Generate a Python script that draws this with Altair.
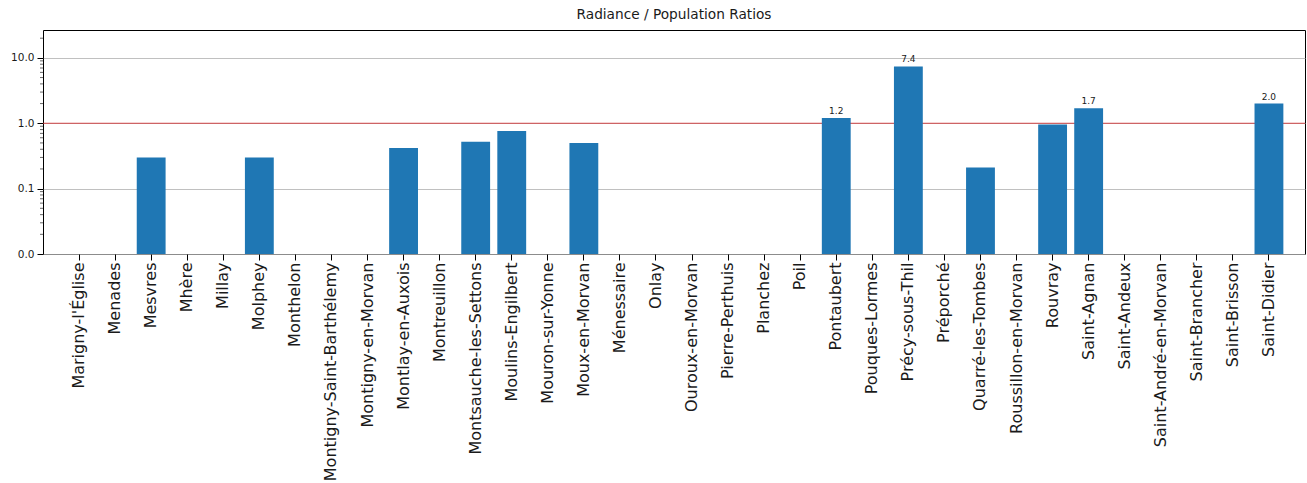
import altair as alt
import pandas as pd

# Communes and their radiance / population ratio (0 = no data, not drawn on log axis)
communes = [
    "Marigny-l'Église", "Menades", "Mesvres", "Mhère", "Millay", "Molphey",
    "Monthelon", "Montigny-Saint-Barthélemy", "Montigny-en-Morvan",
    "Montlay-en-Auxois", "Montreuillon", "Montsauche-les-Settons",
    "Moulins-Engilbert", "Mouron-sur-Yonne", "Moux-en-Morvan", "Ménessaire",
    "Onlay", "Ouroux-en-Morvan", "Pierre-Perthuis", "Planchez", "Poil",
    "Pontaubert", "Pouques-Lormes", "Précy-sous-Thil", "Préporché",
    "Quarré-les-Tombes", "Roussillon-en-Morvan", "Rouvray", "Saint-Agnan",
    "Saint-Andeux", "Saint-André-en-Morvan", "Saint-Brancher", "Saint-Brisson",
    "Saint-Didier",
]
ratios = [
    0, 0, 0.30, 0, 0, 0.30,
    0, 0, 0,
    0.42, 0, 0.52,
    0.76, 0, 0.50, 0,
    0, 0, 0, 0, 0,
    1.2, 0, 7.4, 0,
    0.21, 0, 0.96, 1.7,
    0, 0, 0, 0,
    2.0,
]

y_ticks = [0.01, 0.1, 1.0, 10.0]
y_domain = [0.01, 26.7]
minor_ticks = [m * d for d in (0.01, 0.1, 1.0) for m in range(2, 10)] + [20.0]
reference_level = 1.0

W, H = 1262, 224
FONT = "DejaVu Sans"
BAR_COLOR = "#1f77b4"

df = pd.DataFrame({"commune": communes, "ratio": ratios})
df["base"] = y_domain[0]
df["label"] = df["ratio"].map(lambda v: f"{v:.1f}")

x_scale = alt.Scale(domain=communes, paddingInner=0.2, paddingOuter=0.6)
y_scale = alt.Scale(type="log", domain=y_domain, nice=False)

x_enc = alt.X(
    "commune:N", scale=x_scale, sort=communes, title=None,
    axis=alt.Axis(labelAngle=-90, labelFontSize=16, labelFont=FONT,
                  labelColor="#1a1a1a", tickSize=6, tickColor="#000000",
                  labelPadding=2, domain=False, grid=False, labelOverlap=False,
                  labelLimit=400),
)
y_axis = alt.Axis(values=y_ticks, format=".1f", labelFontSize=10.5, labelFont=FONT,
                  labelColor="#1a1a1a", tickSize=6, tickColor="#000000",
                  labelPadding=3, domain=False, grid=True, gridColor="#b0b0b0",
                  gridWidth=0.8)

base = alt.Chart(df)

bars = base.transform_filter(alt.datum.ratio > 0).mark_bar(color=BAR_COLOR).encode(
    x=x_enc,
    y=alt.Y("ratio:Q", scale=y_scale, axis=y_axis, title=None),
    y2="base:Q",
)

labels = base.transform_filter(alt.datum.ratio > 1).mark_text(
    fontSize=9, font=FONT, color="#1a1a1a", baseline="bottom", dy=-2
).encode(
    x=alt.X("commune:N", scale=x_scale, sort=communes),
    y=alt.Y("ratio:Q", scale=y_scale),
    text="label:N",
)

ref_rule = alt.Chart(pd.DataFrame({"y": [reference_level]})).mark_rule(
    color="#d62728", strokeWidth=1, opacity=0.8
).encode(
    y=alt.Y("y:Q", scale=y_scale),
    x=alt.value(0), x2=alt.value(W),
)

minor = alt.Chart(pd.DataFrame({"y": minor_ticks})).mark_rule(
    color="#000000", strokeWidth=0.6
).encode(
    y=alt.Y("y:Q", scale=y_scale),
    x=alt.value(-3), x2=alt.value(0),
)

chart = alt.layer(ref_rule, bars, labels, minor).properties(
    width=W,
    height=H,
    background="#ffffff",
    title=alt.TitleParams("Radiance / Population Ratios", fontSize=13.7,
                          fontWeight="normal", font=FONT, color="#1a1a1a",
                          offset=8),
    autosize=alt.AutoSizeParams(type="none"),
    padding={"left": 43, "top": 30, "right": 2, "bottom": 229},
).configure_view(
    stroke="#000000", strokeWidth=1
)

chart.save("out.html", embed_options={"renderer": "svg", "actions": False})
